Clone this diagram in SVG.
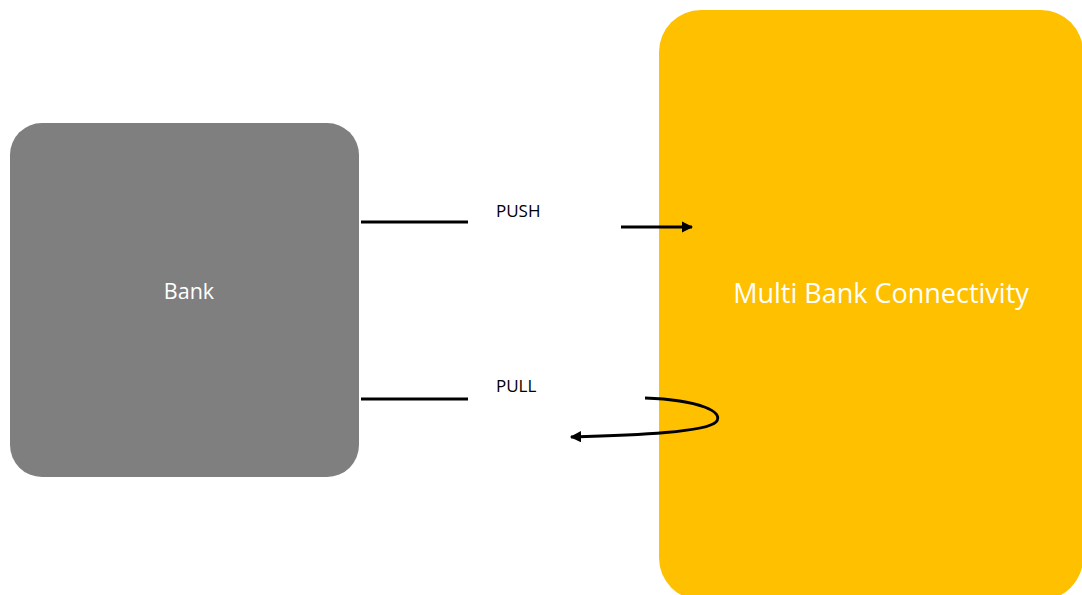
<svg xmlns="http://www.w3.org/2000/svg" width="1082" height="595" viewBox="0 0 1082 595">
  <defs>
    <marker id="arrow" viewBox="0 0 10 10" refX="9" refY="5" markerWidth="4.2" markerHeight="4" orient="auto-start-reverse" markerUnits="strokeWidth">
      <path d="M0,0 L10,5 L0,10 z" fill="#000"/>
    </marker>
    <style>
      .label { font-family: "Open Sans", "Liberation Sans", Arial, sans-serif; fill: #fff; }
      .edge-label { font-family: "Open Sans", "Liberation Sans", Arial, sans-serif; font-size: 17px; fill: #000; }
      .line { stroke: #000; stroke-width: 2.8; fill: none; }
    </style>
  </defs>
  <rect width="1082" height="595" fill="#fff"/>

  <g id="bank">
    <rect x="10" y="123" width="349" height="354" rx="32" fill="#7f7f7f"/>
    <text class="label" x="189" y="299" font-size="21.5" text-anchor="middle">Bank</text>
  </g>

  <g id="mbc">
    <rect x="659" y="10" width="424" height="590" rx="42" fill="#ffc000"/>
    <text class="label" x="881" y="303" font-size="27" text-anchor="middle">Multi Bank Connectivity</text>
  </g>

  <g id="connectors">
    <line class="line" x1="361" y1="222" x2="468" y2="222"/>
    <line class="line" x1="621" y1="227" x2="692" y2="227" marker-end="url(#arrow)"/>
    <line class="line" x1="361" y1="399" x2="468" y2="399"/>
    <path class="line" d="M645,398 C700,400 725,412 716,422 C706,432 640,435 571,437" marker-end="url(#arrow)"/>
    <text class="edge-label" x="496" y="217">PUSH</text>
    <text class="edge-label" x="496" y="392">PULL</text>
  </g>
</svg>
